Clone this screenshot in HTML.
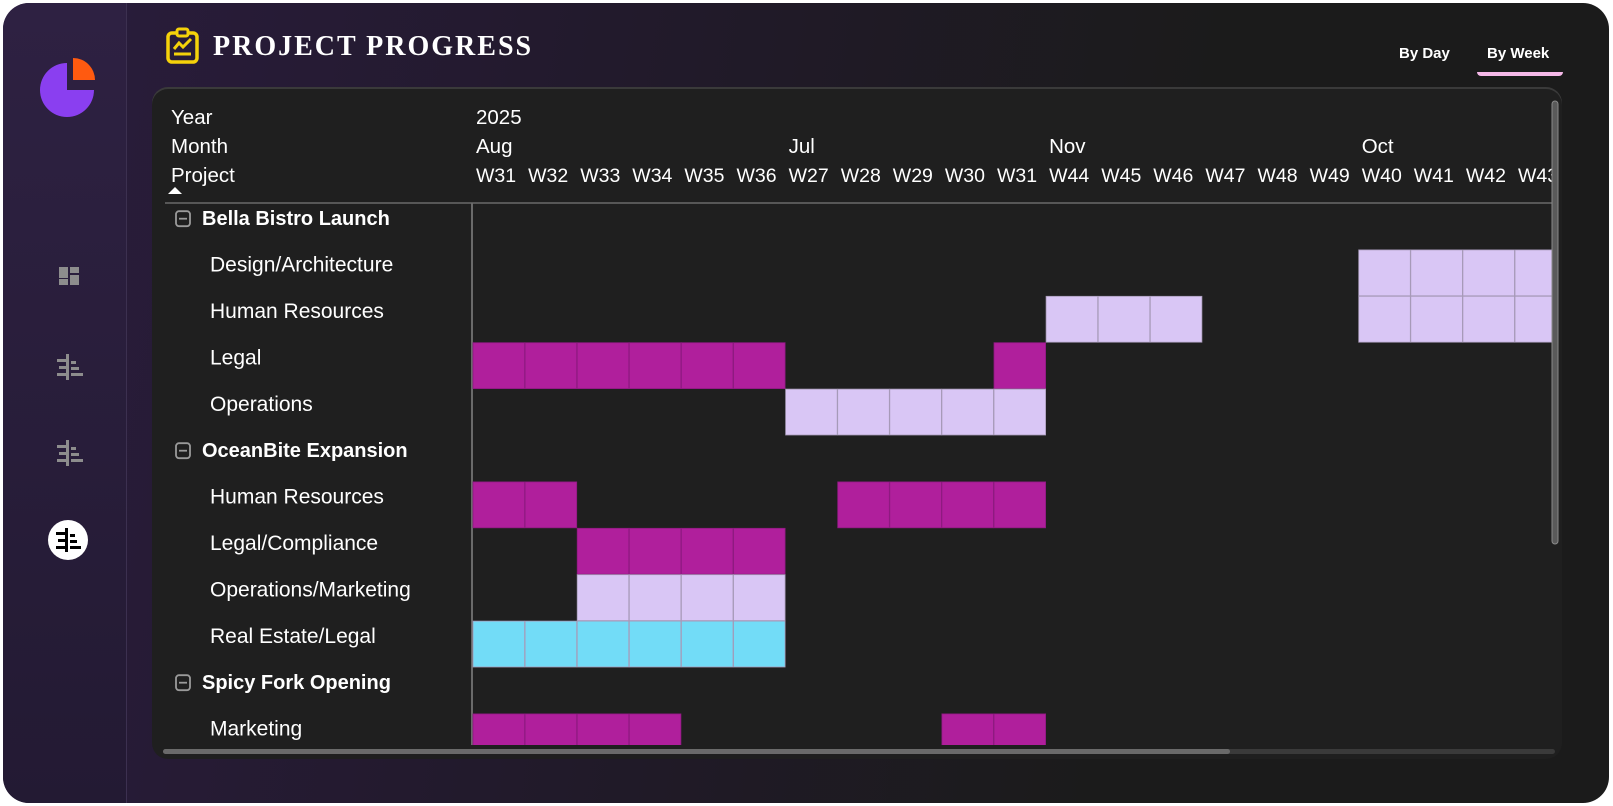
<!DOCTYPE html>
<html><head><meta charset="utf-8">
<style>
*{margin:0;padding:0;box-sizing:border-box}
html,body{width:1613px;height:806px;background:#fff;overflow:hidden;font-family:"Liberation Sans",sans-serif}
#card{position:absolute;left:3px;top:3px;width:1606px;height:800px;border-radius:26px;overflow:hidden;background:linear-gradient(100deg,#2a1c3d 0%,#221a2c 35%,#1b1b1b 70%)}
#side{position:absolute;left:0;top:0;width:124px;height:800px;background:linear-gradient(180deg,#2e2142,#231a33);border-right:1px solid #3c3050}
.t{position:absolute;color:#fff;white-space:nowrap}
#panel{position:absolute;left:149px;top:86px;width:1410px;height:670px;background:#1f1f1f;border-radius:16px;box-shadow:0 -2px 0 #3a3a3a}
</style></head><body>
<div id="card">
 <div id="side">
  <svg style="position:absolute;left:36px;top:52px" width="60" height="64">
   <path d="M28 8 A27 27 0 1 0 55 35 L28 35 Z" fill="#8a3ff0"/>
   <path d="M34 3 A22 22 0 0 1 56 25 L34 25 Z" fill="#ff5a10"/>
  </svg>
  <svg style="position:absolute;left:55px;top:263px" width="22" height="20"><rect x="1" y="1" width="9" height="11" fill="#8d8d8d"/><rect x="12" y="1" width="9" height="6" fill="#8d8d8d"/><rect x="1" y="13" width="9" height="6" fill="#8d8d8d"/><rect x="12" y="9" width="9" height="10" fill="#8d8d8d"/></svg>
  <svg style="position:absolute;left:53px;top:350px" width="28" height="28"><g fill="#8d8d8d"><rect x="10" y="1" width="3" height="26"/><rect x="1" y="6" width="9" height="3"/><rect x="3" y="13" width="7" height="3"/><rect x="1" y="20" width="9" height="3"/><rect x="15" y="8" width="5" height="3"/><rect x="15" y="14" width="8" height="3"/><rect x="15" y="20" width="12" height="3"/></g></svg>
  <svg style="position:absolute;left:53px;top:436px" width="28" height="28"><g fill="#8d8d8d"><rect x="10" y="1" width="3" height="26"/><rect x="1" y="6" width="9" height="3"/><rect x="3" y="13" width="7" height="3"/><rect x="1" y="20" width="9" height="3"/><rect x="15" y="8" width="5" height="3"/><rect x="15" y="14" width="8" height="3"/><rect x="15" y="20" width="12" height="3"/></g></svg>
  <svg style="position:absolute;left:44px;top:516px" width="42" height="42"><circle cx="21" cy="21" r="20" fill="#fff"/><g fill="#000" transform="translate(8,8)"><rect x="10" y="1" width="3" height="24"/><rect x="1" y="5" width="9" height="3"/><rect x="3" y="12" width="7" height="3"/><rect x="1" y="19" width="9" height="3"/><rect x="15" y="7" width="5" height="3"/><rect x="15" y="13" width="7" height="3"/><rect x="15" y="19" width="11" height="3"/></g></svg>
 </div>
 <svg style="position:absolute;left:162px;top:24px" width="36" height="38"><rect x="3" y="6" width="29" height="29" rx="4" fill="none" stroke="#f5d20a" stroke-width="3.5"/><rect x="12" y="2" width="11" height="7" rx="2" fill="#2a1c3d" stroke="#f5d20a" stroke-width="3"/><polyline points="9,22 14,16 18,20 26,12" fill="none" stroke="#f5d20a" stroke-width="3"/><line x1="9" y1="27" x2="26" y2="27" stroke="#f5d20a" stroke-width="3"/></svg>
 <div class="t" style="left:210px;top:28px;font-family:'Liberation Serif',serif;font-weight:bold;font-size:28px;letter-spacing:2px">PROJECT PROGRESS</div>
 <div class="t" style="left:1396px;top:42px;font-size:15px;font-weight:bold">By Day</div>
 <div class="t" style="left:1484px;top:42px;font-size:15px;font-weight:bold">By Week</div>
 <div style="position:absolute;left:1474px;top:69px;width:86px;height:4px;background:#f5b8e8;border-radius:0 0 4px 4px"></div>
 <div id="panel"></div>
 <svg id="g" style="position:absolute;left:0;top:0" width="1606" height="800"></svg>
</div>
<script>
const weeks=["W31","W32","W33","W34","W35","W36","W27","W28","W29","W30","W31","W44","W45","W46","W47","W48","W49","W40","W41","W42","W43"];
const months=["Aug","Jul","Nov","Oct"];
const monthStart=[0,6,11,17];
const rowLabels=["Bella Bistro Launch","Design/Architecture","Human Resources","Legal","Operations","OceanBite Expansion","Human Resources","Legal/Compliance","Operations/Marketing","Real Estate/Legal","Spicy Fork Opening","Marketing"];
const isGroup=[1,0,0,0,0,1,0,0,0,0,1,0];
// status codes per week: 0 none, 1 magenta, 2 lavender, 3 cyan
const r1=[0,0,0,0,0,0,0,0,0,0,0,0,0,0,0,0,0,2,2,2,2];
const r2=[0,0,0,0,0,0,0,0,0,0,0,2,2,2,0,0,0,2,2,2,2];
const r3=[1,1,1,1,1,1,0,0,0,0,1,0,0,0,0,0,0,0,0,0,0];
const r4=[0,0,0,0,0,0,2,2,2,2,2,0,0,0,0,0,0,0,0,0,0];
const r6=[1,1,0,0,0,0,0,1,1,1,1,0,0,0,0,0,0,0,0,0,0];
const r7=[0,0,1,1,1,1,0,0,0,0,0,0,0,0,0,0,0,0,0,0,0];
const r8=[0,0,2,2,2,2,0,0,0,0,0,0,0,0,0,0,0,0,0,0,0];
const r9=[3,3,3,3,3,3,0,0,0,0,0,0,0,0,0,0,0,0,0,0,0];
const r11=[1,1,1,1,0,0,0,0,0,1,1,0,0,0,0,0,0,0,0,0,0];
const rowValues=[null,r1,r2,r3,r4,null,r6,r7,r8,r9,null,r11];

const NS="http://www.w3.org/2000/svg";
const svg=document.getElementById('g');
const X0=469,CW=52.1,Y0=200,RH=46.4;
const colors=["none","#b01f9c","#d9c6f5","#72dcf7"];
const xOf=i=>X0+i*CW, yOf=r=>Y0+r*RH;
function mk(tag,attrs,txt){const e=document.createElementNS(NS,tag);for(const k in attrs)e.setAttribute(k,attrs[k]);if(txt!=null)e.textContent=txt;svg.appendChild(e);return e;}
const defs=mk('defs',{});
const cp=document.createElementNS(NS,'clipPath');cp.setAttribute('id','clipG');
const cr=document.createElementNS(NS,'rect');cr.setAttribute('x',X0);cr.setAttribute('y',Y0);cr.setAttribute('width',1549-X0);cr.setAttribute('height',742-Y0);cp.appendChild(cr);defs.appendChild(cp);
const cp2=document.createElementNS(NS,'clipPath');cp2.setAttribute('id','clipH');
const cr2=document.createElementNS(NS,'rect');cr2.setAttribute('x',150);cr2.setAttribute('y',90);cr2.setAttribute('width',1399);cr2.setAttribute('height',660);cp2.appendChild(cr2);defs.appendChild(cp2);
const hg=mk('g',{'clip-path':'url(#clipH)'});
function txt(x,y,s,opts){const e=document.createElementNS(NS,'text');e.setAttribute('x',x);e.setAttribute('y',y);e.setAttribute('fill','#fff');e.setAttribute('font-size',opts&&opts.fs||20.5);e.setAttribute('font-family','Liberation Sans, sans-serif');if(opts&&opts.bold)e.setAttribute('font-weight','bold');e.textContent=s;hg.appendChild(e);return e;}
let e;
e=txt(168,121,"Year");
e=txt(168,150,"Month");
e=txt(168,179,"Project");
e=mk('path',{d:'M165 191 L172 184 L179 191 Z',fill:'#fff'});


e=txt(X0+4,121,"2025");
months.forEach((m,i)=>{const t=txt(xOf(monthStart[i])+4,150,m);

});
weeks.forEach((w,i)=>{const t=txt(xOf(i)+4,179,w,{fs:19.5});

});
e=mk('line',{x1:162,y1:Y0,x2:1550,y2:Y0,stroke:'#6a6a6a','stroke-width':1.5});


e=mk('line',{x1:X0,y1:Y0,x2:X0,y2:742,stroke:'#6a6a6a','stroke-width':2});


const gg=mk('g',{'clip-path':'url(#clipG)'});
rowLabels.forEach((lab,r)=>{
 const cy=yOf(r)+RH/2-8;
 if(cy>742)return;
 if(isGroup[r]){
  const b=document.createElementNS(NS,'rect');b.setAttribute('x',173);b.setAttribute('y',cy-7);b.setAttribute('width',14);b.setAttribute('height',15);b.setAttribute('rx',3);b.setAttribute('fill','none');b.setAttribute('stroke','#9a9a9a');b.setAttribute('stroke-width',1.8);
  
  
  hg.appendChild(b);
  const l=document.createElementNS(NS,'line');l.setAttribute('x1',176);l.setAttribute('x2',184);l.setAttribute('y1',cy+0.5);l.setAttribute('y2',cy+0.5);l.setAttribute('stroke','#9a9a9a');l.setAttribute('stroke-width',1.8);hg.appendChild(l);
  const t=txt(199,cy+7,lab,{bold:true,fs:20});
  
  
 } else {
  const t=txt(207,cy+7,lab,{fs:21});
  
  
 }
 const vals=rowValues[r];
 if(!vals)return;
 vals.forEach((v,c)=>{
  if(!v)return;
  const rc=document.createElementNS(NS,'rect');
  rc.setAttribute('x',xOf(c)+1);rc.setAttribute('y',yOf(r)+0.5);rc.setAttribute('width',CW-0.5);rc.setAttribute('height',RH-0.5);
  rc.setAttribute('fill',colors[v]);rc.setAttribute('stroke',v===1?'#8e1a80':'#a79ab8');rc.setAttribute('stroke-width',0.8);
  
  
  gg.appendChild(rc);
 });
});
e=mk('rect',{x:1549,y:98,width:6,height:443,rx:3,fill:'#5a5a5a',stroke:'#8a8a8a','stroke-width':1});


e=mk('rect',{x:160,y:746,width:1392,height:5,rx:2.5,fill:'#3a3a3a'});


e=mk('rect',{x:160,y:746,width:1067,height:5,rx:2.5,fill:'#6a6a6a'});


</script>
</body></html>
